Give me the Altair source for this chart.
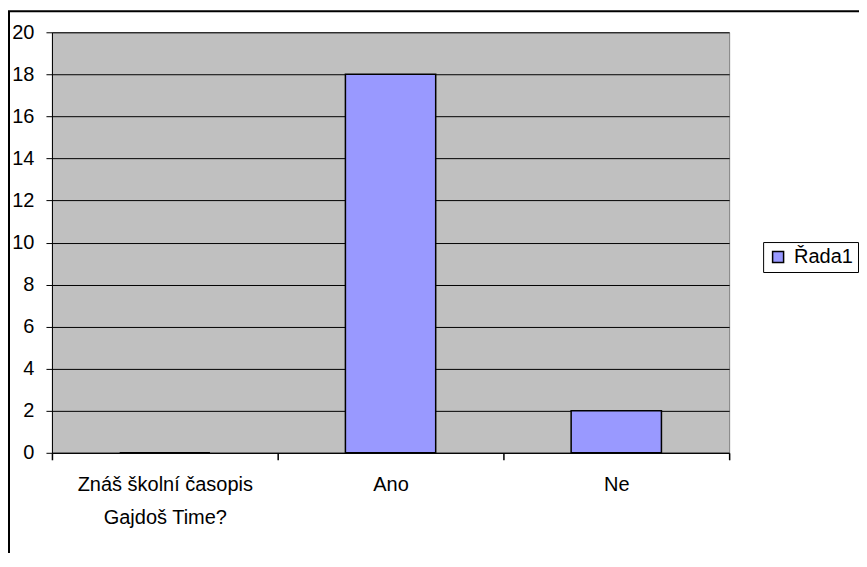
import altair as alt
import pandas as pd

categories = ["Znáš školní časopis\nGajdoš Time?", "Ano", "Ne"]
values = [0, 18, 2]
series = ["Řada1"] * 3

df = pd.DataFrame({"kategorie": categories, "hodnota": values, "rada": series})

FONT = "Arial, Liberation Sans"
FS = 20

frame = alt.Chart(alt.Data(values=[{}])).mark_rect(
    fill=None, stroke="black", strokeWidth=2
).encode(
    x=alt.value(-43), x2=alt.value(1000), y=alt.value(-21), y2=alt.value(1000)
)

bars = alt.Chart(df).mark_bar(
    stroke="black", strokeWidth=1.5, opacity=1, width={"band": 0.4}
).encode(
    x=alt.X(
        "kategorie:N",
        sort=categories,
        scale=alt.Scale(paddingInner=0, paddingOuter=0),
        axis=alt.Axis(
            title=None, labelAngle=0, ticks=True, tickBand="extent",
            tickSize=7, tickWidth=1.5, tickOpacity=1,
            labelPadding=15, labelExpr="split(datum.label, '\\n')",
            labelLineHeight=33, domainColor="black", tickColor="black",
            labelFont=FONT, labelFontSize=FS, labelColor="black", grid=False,
        ),
    ),
    y=alt.Y(
        "hodnota:Q",
        scale=alt.Scale(domain=[0, 20], nice=False),
        axis=alt.Axis(
            title=None, values=list(range(0, 21, 2)), tickSize=6, labelPadding=12,
            domainColor="black", tickColor="black", gridColor="black",
            gridOpacity=1, grid=True, labelFont=FONT, labelFontSize=FS,
            labelColor="black",
        ),
    ),
    color=alt.Color(
        "rada:N",
        scale=alt.Scale(range=["#9999FF"]),
        legend=alt.Legend(
            title=None, orient="none", legendX=712, legendY=210,
            strokeColor="black", padding=5, symbolType="square",
            symbolSize=121, symbolStrokeColor="black", symbolStrokeWidth=1.5,
            labelFont=FONT, labelFontSize=FS, labelColor="black",
            symbolOpacity=1, fillColor="white", labelOffset=6,
        ),
    ),
)

chart = alt.layer(frame, bars).properties(
    width=678, height=421,
    autosize=alt.AutoSizeParams(type="none"),
    padding={"left": 44, "top": 24, "right": 130, "bottom": 100},
    background="white",
).configure_view(
    fill="#C0C0C0", stroke="#808080", strokeWidth=1
)

chart.save("out.html", embed_options={"renderer": "svg", "actions": False})
